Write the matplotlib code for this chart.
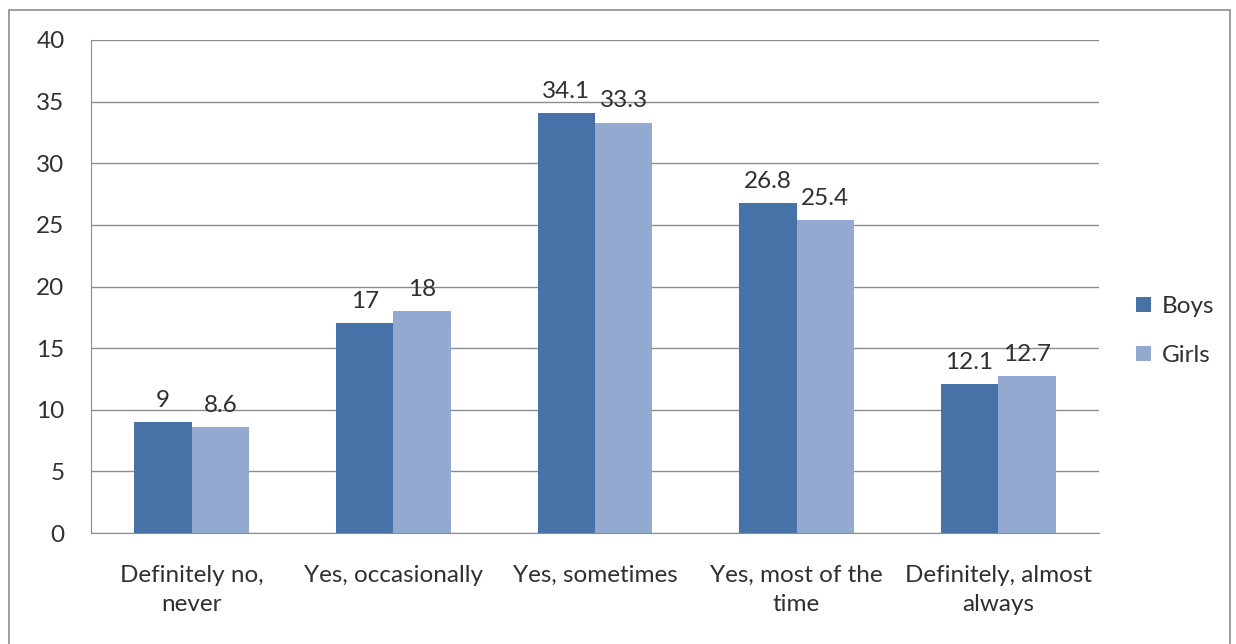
import matplotlib.pyplot as plt
import numpy as np
from matplotlib.patches import Rectangle

categories = ['Definitely no,\nnever', 'Yes, occasionally', 'Yes, sometimes',
              'Yes, most of the\ntime', 'Definitely, almost\nalways']
boys = [9, 17, 34.1, 26.8, 12.1]
girls = [8.6, 18, 33.3, 25.4, 12.7]

plt.rcParams['font.family'] = ['Lato', 'DejaVu Sans']
fs = 17.5
txt = '#303030'

fig = plt.figure(figsize=(12.36, 6.44), dpi=100)
ax = fig.add_axes([91 / 1236, 1 - 533 / 644, 1008 / 1236, 493 / 644])

# outer frame round the whole chart
fig.patches.append(Rectangle((9 / 1236, -0.01), 1221 / 1236, 1 - 10 / 644 + 0.01,
                             transform=fig.transFigure, fill=False,
                             edgecolor='#8c8c8c', linewidth=1.2))

index = np.arange(len(categories))
bar_width = 0.285
bars1 = ax.bar(index - bar_width / 2, boys, bar_width, color='#4672a8', label='Boys')
bars2 = ax.bar(index + bar_width / 2, girls, bar_width, color='#93a9d0', label='Girls')

for bars in [bars1, bars2]:
    for bar in bars:
        h = bar.get_height()
        ax.annotate(f'{h:g}', xy=(bar.get_x() + bar.get_width() / 2, h),
                    xytext=(0, 8), textcoords='offset points',
                    ha='center', va='bottom', fontsize=fs, color=txt)

ax.set_xlim(-0.5, len(categories) - 0.5)
ax.set_ylim(0, 40)
ax.set_yticks(range(0, 41, 5))
ax.set_xticks(index)
ax.set_xticklabels(categories, fontsize=fs, color=txt, linespacing=1.45)
ax.tick_params(axis='y', labelsize=fs, labelcolor=txt, length=0, pad=19)
ax.tick_params(axis='x', length=0, pad=23)
ax.grid(axis='y', color='#8c8c8c', linewidth=1)
ax.set_axisbelow(True)
for side in ['top', 'right']:
    ax.spines[side].set_visible(False)
for side in ['left', 'bottom']:
    ax.spines[side].set_color('#8c8c8c')

ax.legend(loc='center left', bbox_to_anchor=(1.015, 0.41), frameon=False,
          fontsize=fs, handlelength=0.6, handleheight=0.6, labelspacing=1.15,
          handletextpad=0.45, labelcolor=txt)

fig.savefig('out.png', dpi=100)
